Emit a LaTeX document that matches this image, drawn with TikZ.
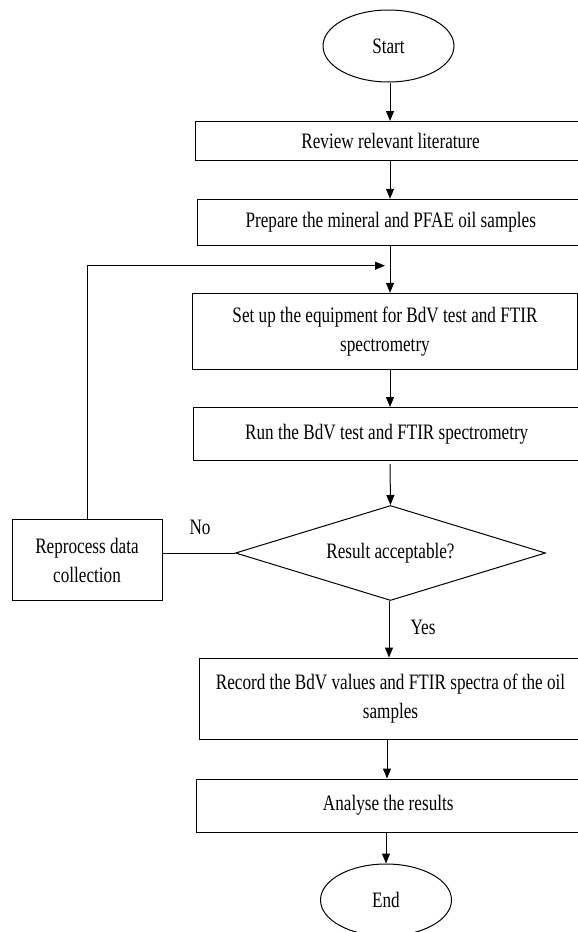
\documentclass[tikz,border=0pt]{standalone}
\usepackage{fontspec}
\setmainfont[FakeStretch=0.78]{Liberation Serif}
\usetikzlibrary{shapes.geometric,arrows.meta}
\begin{document}
\begin{tikzpicture}[x=1pt,y=-1pt,
  every node/.style={font=\fontsize{22}{29}\selectfont},
  box/.style={draw, line width=1pt, rectangle, inner sep=0pt, align=center},
  term/.style={draw, line width=1pt, ellipse, inner sep=0pt, minimum width=131pt, minimum height=72pt},
  decide/.style={draw, line width=1pt, diamond, inner sep=0pt, shape aspect=3.28, minimum width=310pt, minimum height=95pt},
  conn/.style={line width=1pt},
  arr/.style={line width=1pt, -{Triangle[length=10pt,width=8pt]}},
  lbl/.style={inner sep=0pt}]
\useasboundingbox (0,0) rectangle (578,932);
\clip (0,0) rectangle (578,932);
\coordinate (col) at (390,0);
\node[term] (start) at (388.5,46) {Start};
\node[box, minimum width=391pt, minimum height=38.5pt] (review) at (390.5,140.75) {Review relevant literature};
\node[box, minimum width=386.4pt, minimum height=46.4pt] (prepare) at (390.8,222.5) {Prepare the mineral and PFAE oil samples};
\node[box, minimum width=385pt, minimum height=76pt] (setup) at (385,331.3) {Set up the equipment for BdV test and FTIR\\spectrometry};
\node[box, minimum width=386.5pt, minimum height=53pt] (run) at (386.75,434) {Run the BdV test and FTIR spectrometry};
\node[decide] (dec) at (390.5,553) {Result acceptable?};
\node[box, minimum width=150pt, minimum height=81.4pt] (reproc) at (87,560) {Reprocess data\\collection};
\node[box, minimum width=383pt, minimum height=81pt] (record) at (390.5,698.5) {Record the BdV values and FTIR spectra of the oil\\samples};
\node[box, minimum width=383.5pt, minimum height=53pt] (analyse) at (388.25,805.5) {Analyse the results};
\node[term] (end) at (386,900) {End};
\node[lbl] (no) at (200,527) {No};
\node[lbl] (yes) at (423,627) {Yes};
\coordinate (looptip) at (385,265.7);
\draw[arr] (start.south -| col) -- (review.north -| col);
\draw[arr] (review.south -| col) -- (prepare.north -| col);
\draw[arr] (prepare.south -| col) -- (setup.north -| col);
\draw[arr] (setup.south -| col) -- (run.north -| col);
\draw[arr] ([yshift=-3pt]run.south -| col) -- (dec.north);
\draw[conn] (dec.west) -- (reproc.east |- dec.west);
\draw[arr] (reproc.north) -- (reproc.north |- looptip) -- (looptip);
\draw[arr] (dec.south -| 389,0) -- (record.north -| 389,0);
\draw[arr] (record.south -| 387,0) -- (analyse.north -| 387,0);
\draw[arr] (analyse.south -| end.north) -- (end.north);
\end{tikzpicture}
\end{document}
